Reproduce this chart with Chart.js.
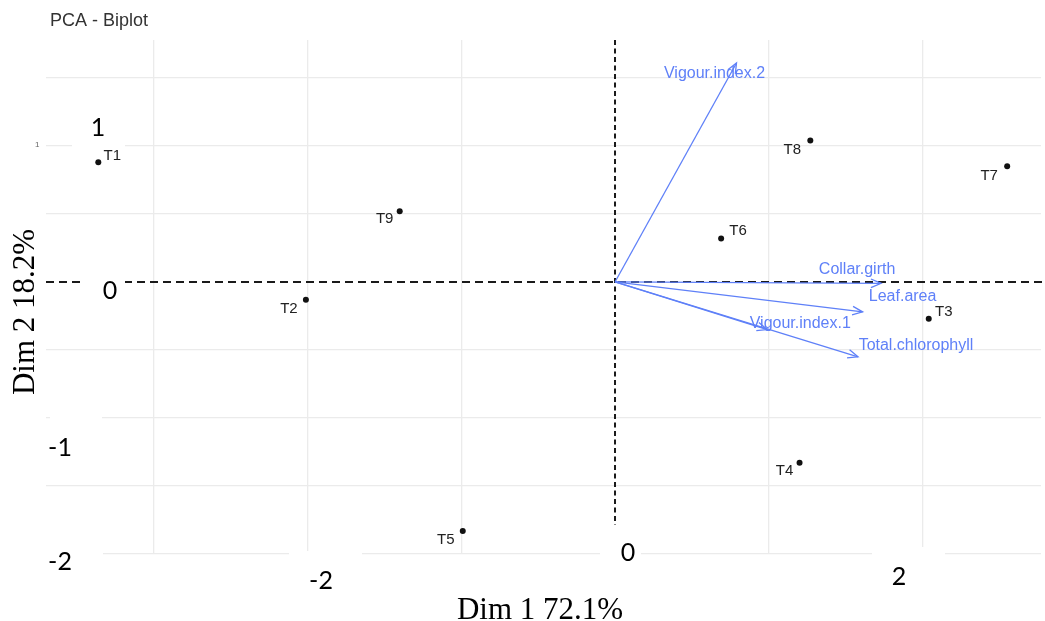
<!DOCTYPE html>
<html>
<head>
<meta charset="utf-8">
<title>PCA - Biplot</title>
<script src="https://cdn.jsdelivr.net/npm/chart.js@4.4.0/dist/chart.umd.min.js"></script>
<style>
  html, body { margin: 0; padding: 0; background: #fff; }
  #wrap { position: relative; width: 1045px; height: 621px; }
</style>
</head>
<body>
<div id="wrap"><canvas id="biplot" width="1045" height="621"></canvas></div>
<script>
// Individuals (rows) on Dim 1 / Dim 2
const individuals = ['T1', 'T2', 'T3', 'T4', 'T5', 'T6', 'T7', 'T8', 'T9'];
const indDim1 = [-3.36, -2.01, 2.04, 1.20, -0.99, 0.69, 2.55, 1.27, -1.40];
const indDim2 = [0.88, -0.13, -0.27, -1.33, -1.83, 0.32, 0.85, 1.04, 0.52];

// Variables (arrows)
const variables = ['Vigour.index.2', 'Collar.girth', 'Leaf.area', 'Total.chlorophyll', 'Vigour.index.1'];
const varDim1 = [0.79, 1.73, 1.61, 1.58, 0.99];
const varDim2 = [1.61, -0.01, -0.22, -0.55, -0.35];

// Grid values and the pasted-over tick labels
const xGridValues = [-3, -2, -1, 0, 1, 2];
const yGridValues = [-2, -1.5, -1, -0.5, 0, 0.5, 1, 1.5];
const yTickText = ['1', '0', '-1', '-2'];
const xTickText = ['0', '-2', '2'];

const titleText = 'PCA - Biplot';
const xTitle = 'Dim 1 72.1%';
const yTitle = 'Dim 2 18.2%';

// layout only: text offsets (px) and white patches behind the big tick labels
const indLabelOffset = [[14, -6], [-17, 9], [15, -7], [-15, 8], [-17, 9], [17, -8], [-18, 10], [-18, 9], [-15, 8]];
const varLabelOffset = [[-22, 11], [-24, -14], [40, -15], [58, -11], [33, -6]];
const yTickPos = [[98, 128, 72, 105, 53, 45], [110, 291, 82, 265, 43, 50], [60, 448, 50, 417, 52, 62], [60, 562, 40, 535, 63, 60]];
const xTickPos = [[628, 553, 600, 525, 41, 55], [321, 581, 289, 551, 73, 60], [899, 577, 872, 547, 73, 58]];

const BLUE = '#5f80f8';

const decor = {
    id: 'decor',
    beforeDatasetsDraw(chart) {
        const { ctx, chartArea: a, scales: { x, y } } = chart;
        const x0 = x.getPixelForValue(0);
        const y0 = y.getPixelForValue(0);
        ctx.save();
        ctx.strokeStyle = '#1a1a1a';
        ctx.lineWidth = 2;
        ctx.setLineDash([8, 5]);
        ctx.beginPath();
        ctx.moveTo(a.left, y0);
        ctx.lineTo(a.right + 4, y0);
        ctx.stroke();
        ctx.setLineDash([5, 3.5]);
        ctx.beginPath();
        ctx.moveTo(x0, a.top);
        ctx.lineTo(x0, a.bottom);
        ctx.stroke();
        ctx.restore();
    },
    afterDatasetsDraw(chart) {
        const { ctx, scales: { x, y } } = chart;
        const ox = x.getPixelForValue(0);
        const oy = y.getPixelForValue(0);
        ctx.save();

        // arrow heads + variable labels
        ctx.strokeStyle = BLUE;
        ctx.fillStyle = BLUE;
        ctx.lineWidth = 1.3;
        ctx.font = '16px "Liberation Sans", Arial, sans-serif';
        ctx.textAlign = 'center';
        ctx.textBaseline = 'middle';
        variables.forEach((v, i) => {
            const tx = x.getPixelForValue(varDim1[i]);
            const ty = y.getPixelForValue(varDim2[i]);
            const ang = Math.atan2(ty - oy, tx - ox);
            ctx.beginPath();
            ctx.moveTo(tx + 11 * Math.cos(ang + Math.PI - 0.4), ty + 11 * Math.sin(ang + Math.PI - 0.4));
            ctx.lineTo(tx, ty);
            ctx.lineTo(tx + 11 * Math.cos(ang + Math.PI + 0.4), ty + 11 * Math.sin(ang + Math.PI + 0.4));
            ctx.stroke();
            ctx.fillText(v, tx + varLabelOffset[i][0], ty + varLabelOffset[i][1]);
        });

        // individual labels
        ctx.fillStyle = '#222';
        ctx.font = '15px "Liberation Sans", Arial, sans-serif';
        individuals.forEach((t, i) => {
            const px = x.getPixelForValue(indDim1[i]);
            const py = y.getPixelForValue(indDim2[i]);
            ctx.fillText(t, px + indLabelOffset[i][0], py + indLabelOffset[i][1]);
        });

        // title
        ctx.fillStyle = '#333';
        ctx.font = '18px "Liberation Sans", Arial, sans-serif';
        ctx.textAlign = 'left';
        ctx.textBaseline = 'alphabetic';
        ctx.fillText(titleText, 50, 26);

        // small leftover of the original tick label
        ctx.fillStyle = '#666';
        ctx.font = '8px "Liberation Sans", Arial, sans-serif';
        ctx.fillText('1', 35, 147);

        // pasted tick labels on white patches
        ctx.textAlign = 'center';
        ctx.textBaseline = 'middle';
        ctx.font = '25px Lato, "Open Sans", sans-serif';
        const paste = (txt, p) => {
            ctx.fillStyle = '#fff';
            ctx.fillRect(p[2], p[3], p[4], p[5]);
            ctx.fillStyle = '#000';
            ctx.fillText(txt, p[0], p[1]);
        };
        yTickText.forEach((t, i) => paste(t, yTickPos[i]));
        xTickText.forEach((t, i) => paste(t, xTickPos[i]));

        // axis titles
        ctx.font = '31px "Liberation Serif", "Times New Roman", serif';
        ctx.textBaseline = 'alphabetic';
        ctx.fillText(xTitle, 540, 619);
        ctx.translate(34, 312);
        ctx.rotate(-Math.PI / 2);
        ctx.fillText(yTitle, 0, 0);
        ctx.restore();
    }
};

const gridColor = c => (c.tick && c.tick.value === 0) ? 'rgba(0,0,0,0)' : '#ebebeb';

const datasets = variables.map((v, i) => ({
    label: v,
    data: [{ x: 0, y: 0 }, { x: varDim1[i], y: varDim2[i] }],
    showLine: true,
    borderColor: BLUE,
    borderWidth: 1.3,
    pointRadius: 0,
    fill: false
}));
datasets.push({
    label: 'individuals',
    data: individuals.map((t, i) => ({ x: indDim1[i], y: indDim2[i] })),
    pointRadius: 3,
    pointBackgroundColor: '#111',
    pointBorderWidth: 0,
    showLine: false
});

new Chart(document.getElementById('biplot').getContext('2d'), {
    type: 'scatter',
    data: { datasets },
    options: {
        responsive: false,
        animation: false,
        devicePixelRatio: 1,
        layout: { padding: { left: 46, top: 40, right: 0, bottom: 67 } },
        scales: {
            x: {
                type: 'linear',
                min: -3.70,
                max: 2.77,
                afterBuildTicks: s => { s.ticks = xGridValues.map(v => ({ value: v })); },
                ticks: { display: false },
                grid: { color: gridColor, lineWidth: 1.3, drawTicks: false },
                border: { display: false }
            },
            y: {
                type: 'linear',
                min: -2.0,
                max: 1.779,
                afterBuildTicks: s => { s.ticks = yGridValues.map(v => ({ value: v })); },
                ticks: { display: false },
                grid: { color: gridColor, lineWidth: 1.3, drawTicks: false },
                border: { display: false }
            }
        },
        plugins: {
            legend: { display: false },
            tooltip: { enabled: false }
        }
    },
    plugins: [decor]
});
</script>
</body>
</html>
